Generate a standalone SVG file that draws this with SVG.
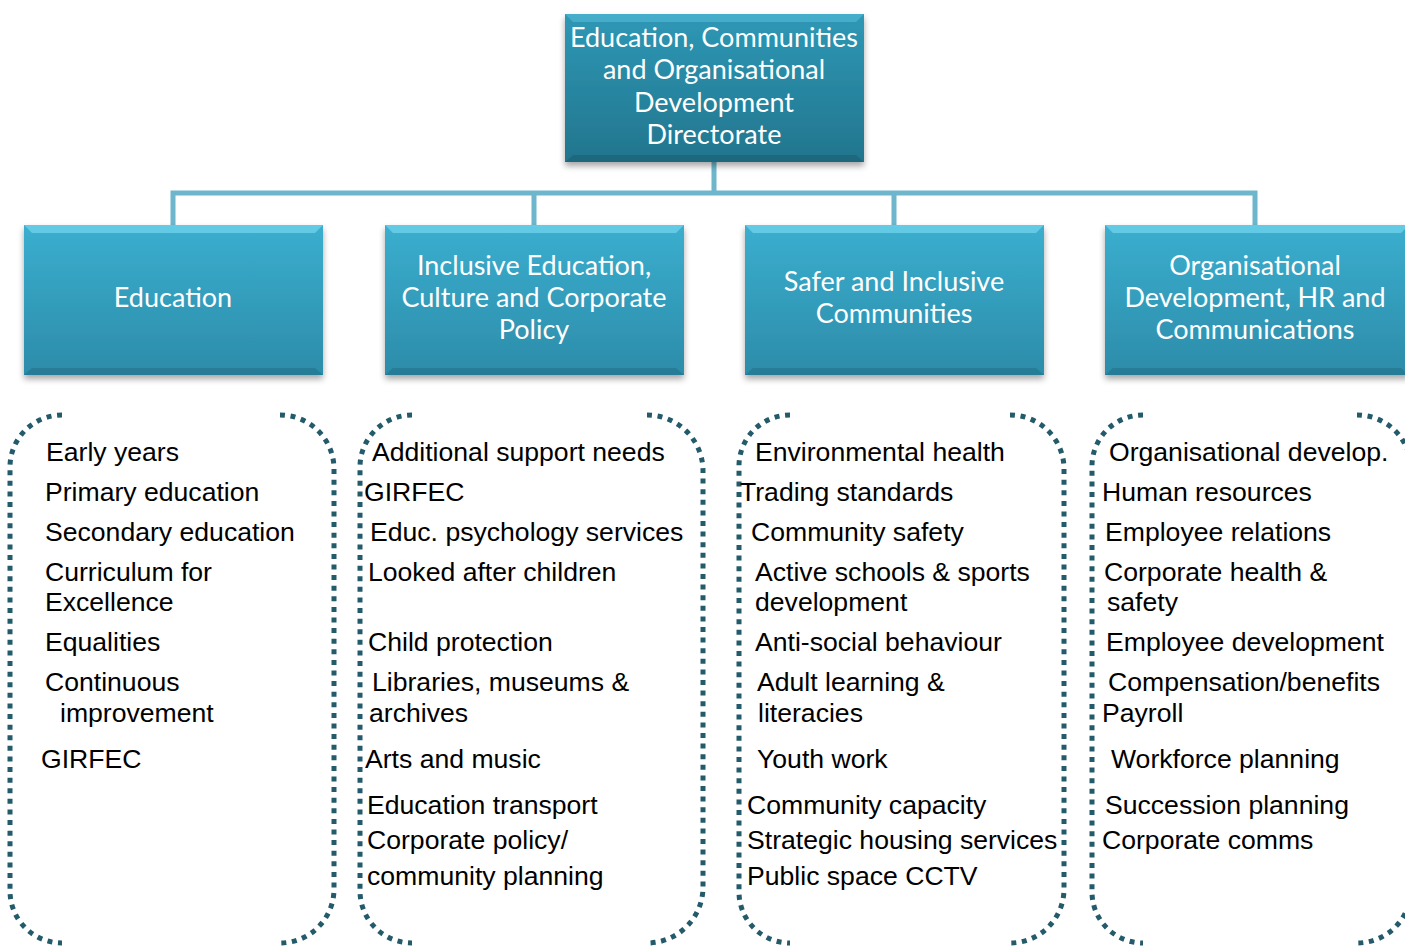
<svg xmlns="http://www.w3.org/2000/svg" width="1405" height="946" viewBox="0 0 1405 946">
<defs>
<linearGradient id="gTop" x1="0" y1="0" x2="0" y2="1">
<stop offset="0" stop-color="#2E98B6"/>
<stop offset="1" stop-color="#22758D"/>
</linearGradient>
<linearGradient id="gChild" x1="0" y1="0" x2="0" y2="1">
<stop offset="0" stop-color="#3BAECF"/>
<stop offset="1" stop-color="#2C8CA9"/>
</linearGradient>
<filter id="sh" x="-10%" y="-10%" width="125%" height="130%">
<feDropShadow dx="0" dy="4" stdDeviation="3" flood-color="#000" flood-opacity="0.35"/>
</filter>
<style>
.box{filter:url(#sh);}
.bt{font-family:Lato,"Noto Sans",sans-serif;font-size:27px;fill:#fff;text-anchor:middle;}
.li{font-family:"Liberation Sans",Arial,sans-serif;font-size:26.6px;fill:#000;}
.br{fill:none;stroke:#235B6B;stroke-width:5;stroke-dasharray:5 5.6;}
.cn{fill:none;stroke:#6DB6CC;stroke-width:5;}
.hl{fill:#7FDDF5;opacity:0.6;}
.dk{fill:#1D5F72;opacity:0.35;}
</style>
</defs>
<rect width="1405" height="946" fill="#fff"/>

<g id="connectors">
<path class="cn" d="M714 162 V193 M173 225 V193 H1255 V225 M534 193 V225 M894 193 V225"/>
</g>

<g id="node-top">
<rect class="box" x="565" y="14" width="299" height="148" fill="url(#gTop)"/>
<polygon points="565,14 864,14 856,22 573,22" fill="#5CC3DE" opacity="0.5"/>
<polygon points="565,162 864,162 856,155 573,155" fill="#174F60" opacity="0.35"/>
<text class="bt" x="714" y="47">Education, Communities</text>
<text class="bt" x="714" y="79">and Organisational</text>
<text class="bt" x="714" y="112">Development</text>
<text class="bt" x="714" y="144">Directorate</text>
</g>

<g id="node-education">
<rect class="box" x="24" y="225" width="299" height="150" fill="url(#gChild)"/>
<polygon class="hl" points="24,225 323,225 315,233 32,233"/>
<polygon class="dk" points="24,375 323,375 315,368 32,368"/>
<text class="bt" x="173" y="307">Education</text>
</g>

<g id="node-inclusive">
<rect class="box" x="385" y="225" width="299" height="150" fill="url(#gChild)"/>
<polygon class="hl" points="385,225 684,225 676,233 393,233"/>
<polygon class="dk" points="385,375 684,375 676,368 393,368"/>
<text class="bt" x="534" y="275">Inclusive Education,</text>
<text class="bt" x="534" y="307">Culture and Corporate</text>
<text class="bt" x="534" y="339">Policy</text>
</g>

<g id="node-safer">
<rect class="box" x="745" y="225" width="299" height="150" fill="url(#gChild)"/>
<polygon class="hl" points="745,225 1044,225 1036,233 753,233"/>
<polygon class="dk" points="745,375 1044,375 1036,368 753,368"/>
<text class="bt" x="894" y="291">Safer and Inclusive</text>
<text class="bt" x="894" y="323">Communities</text>
</g>

<g id="node-orgdev">
<rect class="box" x="1105" y="225" width="304" height="150" fill="url(#gChild)"/>
<polygon class="hl" points="1105,225 1409,225 1401,233 1113,233"/>
<polygon class="dk" points="1105,375 1409,375 1401,368 1113,368"/>
<text class="bt" x="1255" y="275">Organisational</text>
<text class="bt" x="1255" y="307">Development, HR and</text>
<text class="bt" x="1255" y="339">Communications</text>
</g>

<g id="list-education">
<path class="br" d="M62 415 A52 52 0 0 0 10 467 V891 A52 52 0 0 0 62 943"/>
<path class="br" d="M280 415 A54 54 0 0 1 334 469 V889 A54 54 0 0 1 280 943"/>
<text class="li" x="46" y="461">Early years</text>
<text class="li" x="45" y="501">Primary education</text>
<text class="li" x="45" y="541">Secondary education</text>
<text class="li" x="45" y="581">Curriculum for</text>
<text class="li" x="45" y="611">Excellence</text>
<text class="li" x="45" y="651">Equalities</text>
<text class="li" x="45" y="691">Continuous</text>
<text class="li" x="60" y="722">improvement</text>
<text class="li" x="41" y="768">GIRFEC</text>
</g>

<g id="list-inclusive">
<path class="br" d="M412 415 A52 52 0 0 0 360 467 V891 A52 52 0 0 0 412 943"/>
<path class="br" d="M647 415 A56 56 0 0 1 703 471 V887 A56 56 0 0 1 647 943"/>
<text class="li" x="372" y="461">Additional support needs</text>
<text class="li" x="364" y="501">GIRFEC</text>
<text class="li" x="370" y="541">Educ. psychology services</text>
<text class="li" x="368" y="581">Looked after children</text>
<text class="li" x="368" y="651">Child protection</text>
<text class="li" x="372" y="691">Libraries, museums &amp;</text>
<text class="li" x="369" y="722">archives</text>
<text class="li" x="365" y="768">Arts and music</text>
<text class="li" x="367" y="814">Education transport</text>
<text class="li" x="367" y="849">Corporate policy/</text>
<text class="li" x="367" y="885">community planning</text>
</g>

<g id="list-safer">
<path class="br" d="M790 415 A51 51 0 0 0 739 466 V892 A51 51 0 0 0 790 943"/>
<path class="br" d="M1010 415 A54 54 0 0 1 1064 469 V889 A54 54 0 0 1 1010 943"/>
<text class="li" x="755" y="461">Environmental health</text>
<text class="li" x="740" y="501">Trading standards</text>
<text class="li" x="751" y="541">Community safety</text>
<text class="li" x="755" y="581">Active schools &amp; sports</text>
<text class="li" x="755" y="611">development</text>
<text class="li" x="755" y="651">Anti-social behaviour</text>
<text class="li" x="757" y="691">Adult learning &amp;</text>
<text class="li" x="758" y="722">literacies</text>
<text class="li" x="757" y="768">Youth work</text>
<text class="li" x="747" y="814">Community capacity</text>
<text class="li" x="747" y="849">Strategic housing services</text>
<text class="li" x="747" y="885">Public space CCTV</text>
</g>

<g id="list-orgdev">
<path class="br" d="M1143 415 A51 51 0 0 0 1092 466 V892 A51 51 0 0 0 1143 943"/>
<path class="br" d="M1357 415 A54 54 0 0 1 1411 469 V889 A54 54 0 0 1 1357 943"/>
<text class="li" x="1109" y="461">Organisational develop.</text>
<text class="li" x="1102" y="501">Human resources</text>
<text class="li" x="1105" y="541">Employee relations</text>
<text class="li" x="1104" y="581">Corporate health &amp;</text>
<text class="li" x="1107" y="611">safety</text>
<text class="li" x="1106" y="651">Employee development</text>
<text class="li" x="1108" y="691">Compensation/benefits</text>
<text class="li" x="1102" y="722">Payroll</text>
<text class="li" x="1111" y="768">Workforce planning</text>
<text class="li" x="1105" y="814">Succession planning</text>
<text class="li" x="1102" y="849">Corporate comms</text>
</g>
</svg>
